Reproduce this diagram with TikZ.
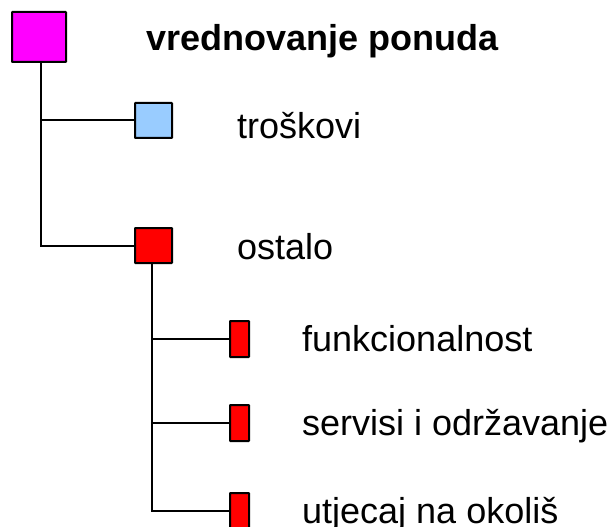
\documentclass[tikz,border=0pt]{standalone}
\usepackage{fontspec}
\setmainfont{Liberation Sans}
\definecolor{magbox}{HTML}{FF00FF}
\definecolor{bluebox}{HTML}{99CCFF}
\definecolor{redbox}{HTML}{FF0000}
\begin{document}
\begin{tikzpicture}[x=1pt,y=-1pt,
  box/.style={draw=black,line width=2pt,inner sep=0pt,outer sep=0pt,rounded corners=0.5pt},
  link/.style={draw=black,line width=2pt},
  lbl/.style={anchor=base west,inner sep=0pt,font=\fontsize{36}{40}\selectfont}]
\useasboundingbox (0,0) rectangle (614,527);
\begin{scope}
\clip (0,0) rectangle (614,527);
\node[box,fill=magbox,minimum width=54pt,minimum height=50pt] (root) at (39,37) {};
\node[box,fill=bluebox,minimum width=37pt,minimum height=35pt] (tros) at (153.5,120.5) {};
\node[box,fill=redbox,minimum width=37pt,minimum height=35pt] (ost) at (153.5,245.5) {};
\node[box,fill=redbox,minimum width=19pt,minimum height=36pt] (f1) at (239.5,339) {};
\node[box,fill=redbox,minimum width=19pt,minimum height=36pt] (f2) at (239.5,423) {};
\node[box,fill=redbox,minimum width=19pt,minimum height=36pt] (f3) at (239.5,511) {};
\draw[link] ([xshift=2pt]root.south) |- (tros.west);
\draw[link] ([xshift=2pt]root.south) |- (ost.west);
\draw[link] ([xshift=-1.5pt]ost.south) |- (f1.west);
\draw[link] ([xshift=-1.5pt]ost.south) |- (f2.west);
\draw[link] ([xshift=-1.5pt]ost.south) |- (f3.west);
\end{scope}
\node[lbl,font=\fontsize{36}{40}\selectfont\bfseries] (t0) at (146,51) {vrednovanje ponuda};
\node[lbl] (t1) at (237,139) {troškovi};
\node[lbl] (t2) at (237,259) {ostalo};
\node[lbl] (t3) at (302,351) {funkcionalnost};
\node[lbl] (t4) at (302,435) {servisi i održavanje};
\node[lbl] (t5) at (302,523) {utjecaj na okoliš};
\end{tikzpicture}
\end{document}
